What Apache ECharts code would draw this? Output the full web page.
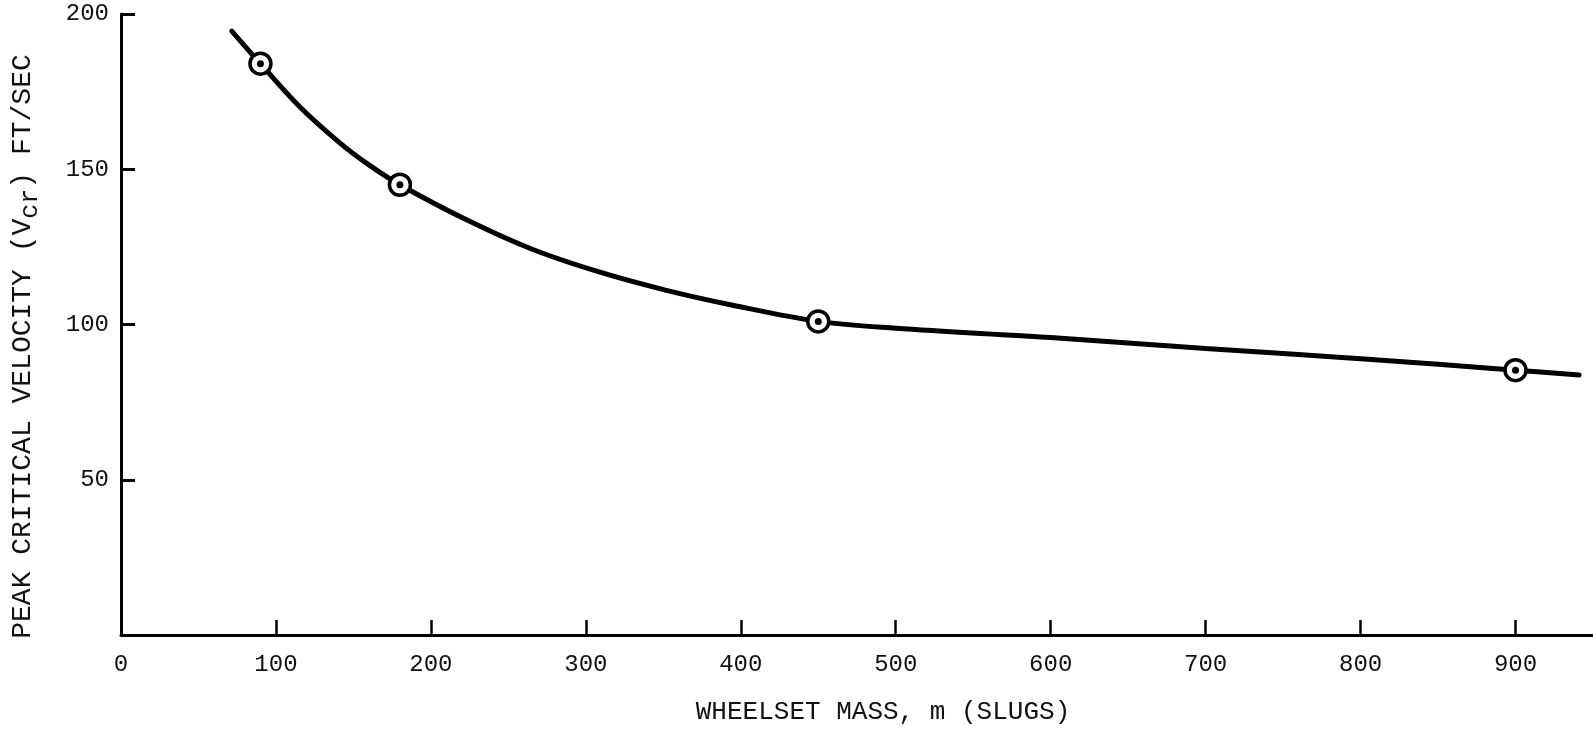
<!DOCTYPE html>
<html>
<head>
<meta charset="utf-8">
<script src="https://cdn.jsdelivr.net/npm/echarts@6/dist/echarts.min.js"></script>
<style>
html,body{margin:0;padding:0;background:#fff;}
#chart{width:1593px;height:735px;}
</style>
</head>
<body>
<div id="chart"></div>
<script>
// Curve: [wheelset mass (slugs), peak critical velocity (ft/sec)]
var curvePoints = [
  [71.5, 194.5], [90, 184], [115, 170.3], [141, 158.6], [160, 151.4], [180, 145],
  [223, 133.7], [265, 124.3], [308, 117], [352, 111], [394, 106.3], [450, 101],
  [500, 98.8], [600, 95.8], [700, 92.3], [800, 89], [900, 85.3], [941, 83.7]
];
// Plotted data points (circled)
var markerPoints = [[90, 184], [180, 145], [450, 101], [900, 85.3]];
var xTicks = [0, 100, 200, 300, 400, 500, 600, 700, 800, 900];
var yTicks = [50, 100, 150, 200];

var FONT = '"Liberation Mono", "DejaVu Sans Mono", monospace';
var chart = echarts.init(document.getElementById('chart'), null, {renderer: 'canvas'});
chart.setOption({
  animation: false,
  backgroundColor: '#ffffff',
  grid: {left: 121, top: 14, right: 0, bottom: 100, containLabel: false},
  xAxis: {
    type: 'value', min: 0, max: 950,
    splitLine: {show: false},
    axisLine: {show: true, onZero: false, lineStyle: {color: '#000', width: 3}},
    axisTick: {show: true, inside: true, length: 15, lineStyle: {color: '#000', width: 2.5}, customValues: xTicks.slice(1)},
    axisLabel: {show: true, margin: 18, color: '#111', fontFamily: FONT, fontSize: 24, customValues: xTicks},
    name: 'WHEELSET MASS, m (SLUGS)',
    nameLocation: 'middle', nameGap: 64,
    nameTextStyle: {color: '#111', fontFamily: FONT, fontSize: 26, padding: [0, 0, 0, 52]}
  },
  yAxis: {
    type: 'value', min: 0, max: 200,
    splitLine: {show: false},
    axisLine: {show: true, onZero: false, lineStyle: {color: '#000', width: 3}},
    axisTick: {show: true, inside: true, length: 14, lineStyle: {color: '#000', width: 3}, customValues: yTicks},
    axisLabel: {show: true, margin: 12, color: '#111', fontFamily: FONT, fontSize: 24, customValues: yTicks},
    name: 'PEAK CRITICAL VELOCITY (V{sub|cr}) FT/SEC',
    nameLocation: 'middle', nameGap: 78, nameRotate: 90,
    nameTextStyle: {
      color: '#111', fontFamily: FONT, fontSize: 28, padding: [0, 44, 0, 0],
      rich: {sub: {color: '#111', fontFamily: FONT, fontSize: 25, padding: [16, 0, 0, 0]}}
    }
  },
  series: [
    {
      type: 'line', data: curvePoints, smooth: 0.35, showSymbol: false,
      lineStyle: {color: '#000', width: 5, cap: 'round'}, z: 2
    },
    {
      type: 'scatter', data: markerPoints, symbol: 'circle', symbolSize: 21,
      itemStyle: {color: '#fff', borderColor: '#000', borderWidth: 3.5, opacity: 1}, z: 3
    },
    {
      type: 'scatter', data: markerPoints, symbol: 'circle', symbolSize: 7,
      itemStyle: {color: '#000', opacity: 1}, z: 4
    }
  ]
});
</script>
</body>
</html>
